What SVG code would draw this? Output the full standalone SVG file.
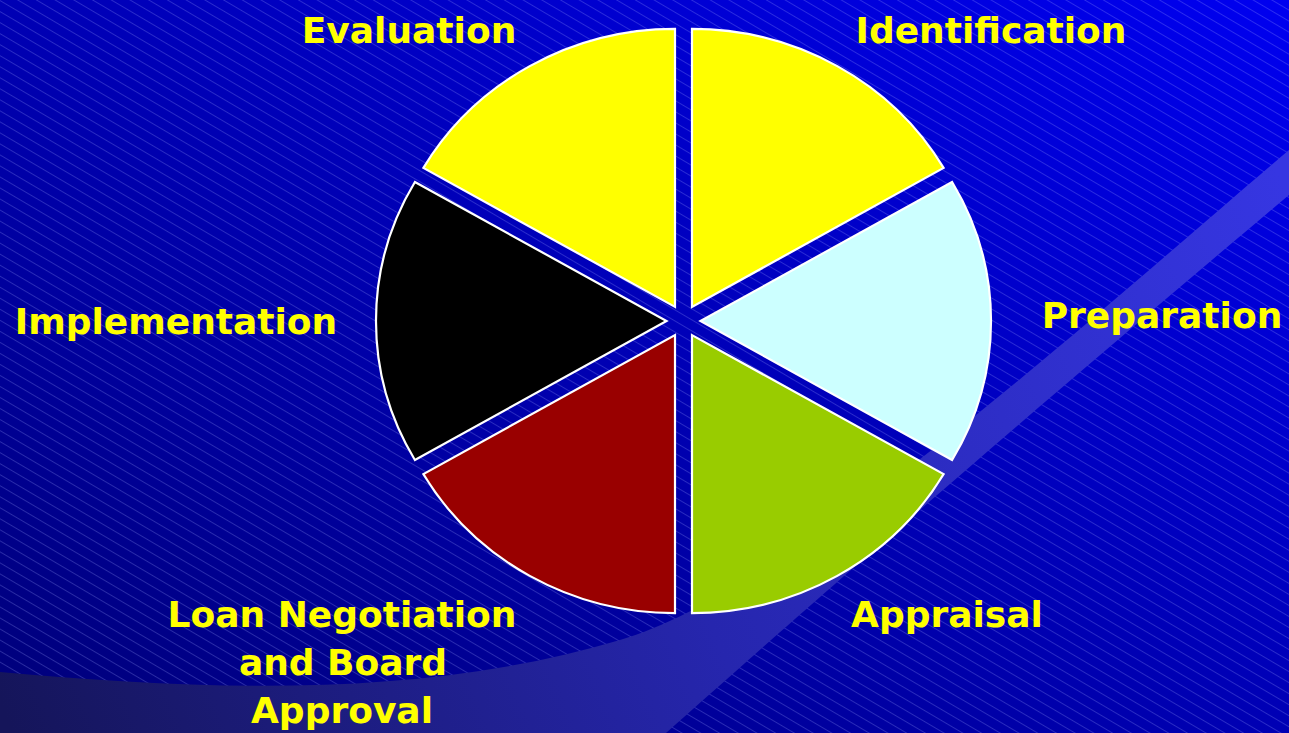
<svg xmlns="http://www.w3.org/2000/svg" width="1289" height="733" viewBox="0 0 1289 733">
  <defs>
    <linearGradient id="bg" x1="0" y1="1" x2="1" y2="0">
      <stop offset="0" stop-color="#000078"/>
      <stop offset="1" stop-color="#0000f0"/>
    </linearGradient>
    <linearGradient id="band" gradientUnits="userSpaceOnUse" x1="0" y1="700" x2="1289" y2="200">
      <stop offset="0" stop-color="#15155a"/>
      <stop offset="0.5" stop-color="#2626ae"/>
      <stop offset="1" stop-color="#3636e2"/>
    </linearGradient>
    <pattern id="hatch" patternUnits="userSpaceOnUse" width="40" height="9.5" patternTransform="rotate(30.5)">
      <line x1="0" y1="0.5" x2="40" y2="0.5" stroke="#a0a8ff" stroke-width="0.8" stroke-opacity="0.32"/>
    </pattern>
    <style>
      .slice { stroke: #ffffff; stroke-width: 2.2; stroke-linejoin: miter; }
      .lbl { font-family: "DejaVu Sans", Verdana, sans-serif; font-weight: bold; font-size: 36px; fill: #ffff00; text-anchor: middle; }
    </style>
  </defs>

  <g id="background">
    <rect x="0" y="0" width="1289" height="733" fill="url(#bg)"/>
    <rect x="0" y="0" width="1289" height="733" fill="url(#hatch)"/>
    <path d="M0,672 C200,690 420,700 620,640 C800,586 1100,310 1289,150 L1289,195 C950,480 760,650 666,733 L0,733 Z" fill="url(#band)"/>
  </g>

  <g id="node-identification">
    <path class="slice" fill="#ffff00" d="M692,306.9 L692,28.9 A290.5,278 0 0 1 943.6,167.9 Z"/>
    <text class="lbl" x="991" y="43">Identification</text>
  </g>
  <g id="node-preparation">
    <path class="slice" fill="#ccffff" d="M700.5,321 L952.1,182 A290.5,278 0 0 1 952.1,460 Z"/>
    <text class="lbl" x="1162" y="328">Preparation</text>
  </g>
  <g id="node-appraisal">
    <path class="slice" fill="#99cc00" d="M692,335.1 L943.6,474.1 A290.5,278 0 0 1 692,613.1 Z"/>
    <text class="lbl" x="947" y="627">Appraisal</text>
  </g>
  <g id="node-loan">
    <path class="slice" fill="#990000" d="M675,335.1 L675,613.1 A290.5,278 0 0 1 423.4,474.1 Z"/>
    <text class="lbl" x="342" y="627">Loan Negotiation</text>
    <text class="lbl" x="343" y="675">and Board</text>
    <text class="lbl" x="342" y="723">Approval</text>
  </g>
  <g id="node-implementation">
    <path class="slice" fill="#000000" d="M666.5,321 L414.9,460 A290.5,278 0 0 1 414.9,182 Z"/>
    <text class="lbl" x="176" y="334">Implementation</text>
  </g>
  <g id="node-evaluation">
    <path class="slice" fill="#ffff00" d="M675,306.9 L423.4,167.9 A290.5,278 0 0 1 675,28.9 Z"/>
    <text class="lbl" x="409" y="43">Evaluation</text>
  </g>

  <g id="connectors"/>
</svg>
